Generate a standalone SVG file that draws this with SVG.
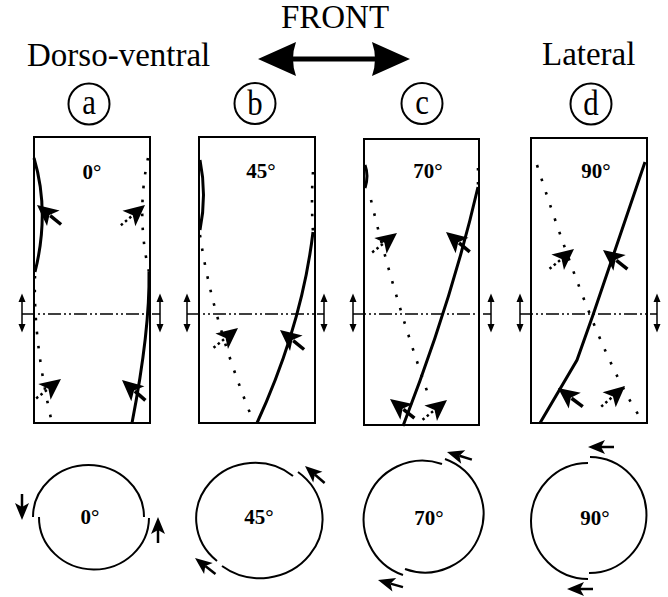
<svg xmlns="http://www.w3.org/2000/svg" width="668" height="597" viewBox="0 0 668 597">
<style>
.t{font-family:"Liberation Serif","Times New Roman",serif;fill:#000}
.big{font-size:33px}
.lab{font-size:21px;font-weight:bold;text-anchor:middle}
.let{font-size:35px;text-anchor:middle}
.ring{fill:none;stroke:#000;stroke-width:2}
.box{fill:none;stroke:#000;stroke-width:2}
.sol{fill:none;stroke:#000;stroke-width:3}
.dot{fill:none;stroke:#000;stroke-width:2.6;stroke-dasharray:2.6 11.4}
.axis{fill:none;stroke:#000;stroke-width:1.5;stroke-dasharray:13 3 2 3 2 3}
.arc{fill:none;stroke:#000;stroke-width:2}
</style>
<defs>
<g id="sa"><path d="M0,0 L-21,-10 L-16,0 L-21,10 Z" fill="#000"/><path d="M-17,0 H-31" stroke="#000" stroke-width="3.5"/></g>
<g id="da"><path d="M0,0 L-21,-10 L-16,0 L-21,10 Z" fill="#000"/><path d="M-18,0 H-33" stroke="#000" stroke-width="2.5" stroke-dasharray="2.5 3"/></g>
<g id="ba"><path d="M0,0 L-17,-7 L-13,0 L-17,7 Z" fill="#000"/><path d="M-13,0 H-26" stroke="#000" stroke-width="2.5"/></g>
<g id="va"><path d="M0,-13 V13" stroke="#000" stroke-width="1.5"/><path d="M0,-19.5 L-3.5,-11 L3.5,-11 Z M0,19.5 L-3.5,11 L3.5,11 Z" fill="#000"/></g>
</defs>
<rect width="668" height="597" fill="#fff"/>

<g id="header">
<text class="t big" x="335" y="28" text-anchor="middle">FRONT</text>
<text class="t big" x="27" y="66">Dorso-ventral</text>
<text class="t big" x="542" y="65">Lateral</text>
<path d="M258,59 L296,42 Q290,59 296,76 Z M410,59 L372,42 Q378,59 372,76 Z" fill="#000"/>
<path d="M292,59 H376" stroke="#000" stroke-width="5"/>
</g>

<g id="panel-a">
<circle class="ring" cx="89" cy="104" r="20.5"/>
<text class="t let" transform="translate(89,114) scale(0.88,1)" x="0" y="0">a</text>
<rect class="box" x="34" y="137" width="116" height="286"/>
<text class="t lab" x="92" y="179">0°</text>
<path class="sol" d="M34,158 Q50,212 35,272"/>
<path class="dot" d="M148,158 Q136,215 149,272"/>
<path class="sol" d="M149,272 Q150,330 132,423"/>
<path class="dot" d="M35,276 Q33,340 52,423"/>
<use href="#sa" transform="translate(37,205) rotate(-141)"/>
<use href="#da" transform="translate(145,205) rotate(-40)"/>
<use href="#sa" transform="translate(122,380) rotate(-139)"/>
<use href="#da" transform="translate(61,379) rotate(-38)"/>
<path class="axis" d="M22,314 H160"/>
<use href="#va" transform="translate(22,313)"/>
<use href="#va" transform="translate(160,313)"/>
</g>

<g id="panel-b">
<circle class="ring" cx="255" cy="103.5" r="20.5"/>
<text class="t let" transform="translate(255,115) scale(0.88,1)" x="0" y="0">b</text>
<rect class="box" x="199" y="137" width="116" height="286"/>
<text class="t lab" x="261" y="178">45°</text>
<path class="sol" d="M200,160 Q207,195 200,230"/>
<path class="dot" d="M313,172 Q311,200 313,232"/>
<path class="sol" d="M313,232 Q302,325 257,423"/>
<path class="dot" d="M200,235 Q212,320 254,423"/>
<use href="#sa" transform="translate(280,330) rotate(-141)"/>
<use href="#da" transform="translate(238,328) rotate(-39)"/>
<path class="axis" d="M187,314 H324"/>
<use href="#va" transform="translate(187,313)"/>
<use href="#va" transform="translate(324,313)"/>
</g>

<g id="panel-c">
<circle class="ring" cx="422" cy="103.5" r="20.5"/>
<text class="t let" transform="translate(422,114) scale(0.88,1)" x="0" y="0">c</text>
<rect class="box" x="364" y="139" width="115" height="286"/>
<text class="t lab" x="428" y="178">70°</text>
<path class="sol" d="M365,165 Q369,176 365,188"/>
<path class="dot" d="M478,168 V186"/>
<path class="sol" d="M478,187 Q452,300 403,426"/>
<path class="dot" d="M371,200 Q392,290 428,394"/>
<use href="#sa" transform="translate(446,232) rotate(-140)"/>
<use href="#sa" transform="translate(390,399) rotate(-142)"/>
<use href="#da" transform="translate(397,233) rotate(-38)"/>
<use href="#da" transform="translate(447,400) rotate(-39)"/>
<path class="axis" d="M353,314 H491"/>
<use href="#va" transform="translate(353,313)"/>
<use href="#va" transform="translate(491,313)"/>
</g>

<g id="panel-d">
<circle class="ring" cx="591" cy="104" r="20.5"/>
<text class="t let" transform="translate(591,115) scale(0.88,1)" x="0" y="0">d</text>
<rect class="box" x="531" y="138" width="116" height="285"/>
<text class="t lab" x="596" y="178">90°</text>
<path class="dot" d="M537,165 Q598,355 643,422"/>
<path class="sol" d="M645,162 L593,315 L577,360 L540,423"/>
<use href="#sa" transform="translate(603,250) rotate(-142)"/>
<use href="#sa" transform="translate(558,388) rotate(-143)"/>
<use href="#da" transform="translate(574,249) rotate(-39)"/>
<use href="#da" transform="translate(625,386) rotate(-41)"/>
<path class="axis" d="M520,314 H657"/>
<use href="#va" transform="translate(520,313)"/>
<use href="#va" transform="translate(657,313)"/>
</g>

<g id="rot-a">
<path class="arc" d="M144,517 A55.5,52 0 0 0 33,517"/>
<path class="arc" d="M39,517 A55,52 0 0 0 149,518"/>
<text class="t lab" x="90" y="524">0°</text>
<use href="#ba" transform="translate(22,520) rotate(90)"/>
<use href="#ba" transform="translate(158,517) rotate(-90)"/>
</g>
<g id="rot-b">
<path class="arc" d="M293,476 A56,53 0 0 0 217,561"/>
<path class="arc" d="M222,566 A56,53 0 0 0 298,472"/>
<text class="t lab" x="259" y="524">45°</text>
<use href="#ba" transform="translate(305,466) rotate(-139)"/>
<use href="#ba" transform="translate(195,558) rotate(-142)"/>
</g>
<g id="rot-c">
<path class="arc" d="M442,464 A56,56 0 0 0 403,575"/>
<path class="arc" d="M405,569 A56,56 0 0 0 445,459"/>
<text class="t lab" x="429" y="525">70°</text>
<use href="#ba" transform="translate(447,452) rotate(-163)"/>
<use href="#ba" transform="translate(378,580) rotate(-164)"/>
</g>
<g id="rot-d">
<path class="arc" d="M588,463 A57,58 0 0 0 588,579"/>
<path class="arc" d="M589,573 A57,58 0 0 0 590,457"/>
<text class="t lab" x="595" y="525">90°</text>
<use href="#ba" transform="translate(588,447) rotate(180)"/>
<use href="#ba" transform="translate(567,589) rotate(180)"/>
</g>
</svg>
